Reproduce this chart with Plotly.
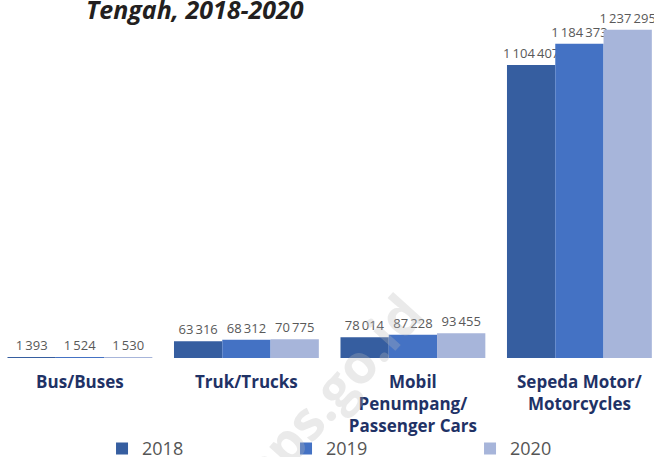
import plotly.graph_objects as go

categories = ["Bus/Buses", "Truk/Trucks", "Mobil<br>Penumpang/<br>Passenger Cars", "Sepeda Motor/<br>Motorcycles"]
years = ["2018", "2019", "2020"]
v2018 = [1393, 63316, 78014, 1104407]
v2019 = [1524, 68312, 87228, 1184373]
v2020 = [1530, 70775, 93455, 1237295]
colors = ["#365ea0", "#4472c4", "#a7b5da"]

def fmt(v):
    return f"{v:,}".replace(",", "\u2009")

xpos = list(range(len(categories)))
fig = go.Figure()
for name, vals, col in zip(years, [v2018, v2019, v2020], colors):
    fig.add_trace(go.Bar(
        x=xpos, y=vals, name=name, marker=dict(color=col, line=dict(width=0)),
        text=[fmt(v) for v in vals], textposition="outside", cliponaxis=False,
        textfont=dict(family="Open Sans", size=13, color="#595959"),
        constraintext="none", hoverinfo="skip",
    ))

fig.update_layout(
    width=654, height=457,
    margin=dict(l=0, r=0, t=13, b=99, autoexpand=False),
    barmode="group", bargap=0.13, bargroupgap=0,
    plot_bgcolor="white", paper_bgcolor="white",
    xaxis=dict(range=[-0.48, 3.448], tickvals=xpos, ticktext=["<b>%s</b>" % c for c in categories],
               tickfont=dict(family="Open Sans", size=17, color="#1f3266"),
               showgrid=False, zeroline=False, showline=False, ticks="", ticklabelstandoff=12,
               automargin=False),
    yaxis=dict(range=[0, 1.3e6], visible=False, automargin=False),
    legend=dict(orientation="h", x=0.156, xanchor="left", y=-0.263, yanchor="middle",
                bgcolor="rgba(0,0,0,0)",
                font=dict(family="Open Sans", size=18, color="#555555"),
                entrywidth=139, entrywidthmode="pixels", itemwidth=30),
    annotations=[
        dict(text="<b><i>Tengah, 2018-2020</i></b>", xref="paper", yref="paper",
             x=84/654, xanchor="left", y=1.0, yanchor="middle", yshift=4,
             showarrow=False, font=dict(family="Open Sans", size=25, color="#231f20")),
        dict(text="<b>bps.go.id</b>", xref="paper", yref="paper",
             x=330/654, y=-0.0986, xanchor="center", yanchor="middle", textangle=-48,
             showarrow=False, font=dict(family="Open Sans", size=54, color="rgba(185,185,185,0.3)")),
    ],
)
fig.write_html("out.html", post_script="document.body.style.margin='0px';",
               config={"displayModeBar": False})
